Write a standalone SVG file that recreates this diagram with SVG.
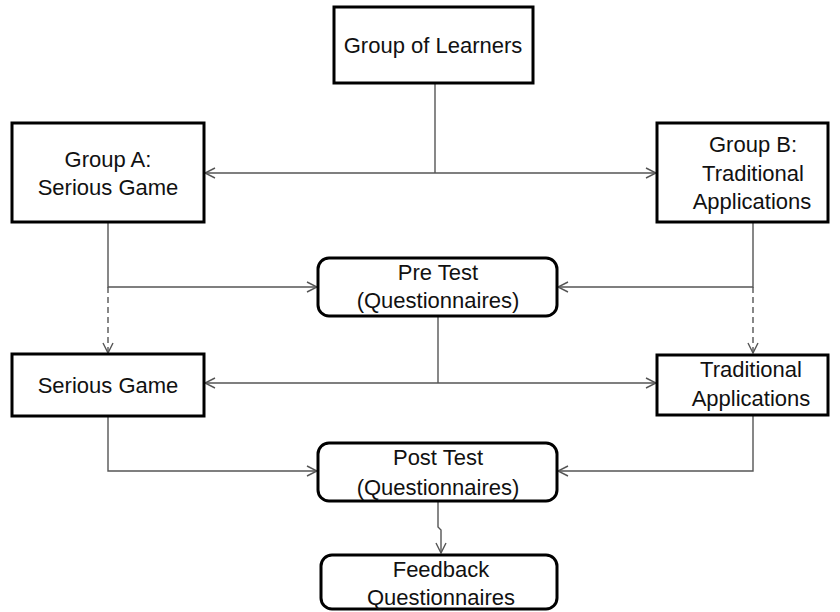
<svg xmlns="http://www.w3.org/2000/svg" width="840" height="612" viewBox="0 0 840 612">
<style>
.box{fill:#fff;stroke:#000;stroke-width:3}
.t{font-family:"Liberation Sans",Arial,sans-serif;font-size:22px;fill:#111;text-anchor:middle}
.c{fill:none;stroke:#555;stroke-width:1.4}
.d{stroke-dasharray:6,4}
</style>
<defs>
<marker id="a" viewBox="0 0 12 12" refX="11" refY="6" markerWidth="12" markerHeight="12" markerUnits="userSpaceOnUse" orient="auto">
<path d="M1,1 L11,6 L1,11" fill="none" stroke="#555" stroke-width="1.4"/>
</marker>
</defs>
<rect width="840" height="612" fill="#fff"/>
<g id="connectors">
<path class="c" d="M435,83 V173"/>
<path class="c" d="M435,173 H205" marker-end="url(#a)"/>
<path class="c" d="M435,173 H656" marker-end="url(#a)"/>
<path class="c" d="M108,222 V287 H317" marker-end="url(#a)"/>
<path class="c" d="M753,222 V287 H558" marker-end="url(#a)"/>
<path class="c d" d="M108,287 V353" marker-end="url(#a)"/>
<path class="c d" d="M753,287 V353" marker-end="url(#a)"/>
<path class="c" d="M438,316 V383"/>
<path class="c" d="M438,383 H205" marker-end="url(#a)"/>
<path class="c" d="M438,383 H656" marker-end="url(#a)"/>
<path class="c" d="M108,416 V471 H317" marker-end="url(#a)"/>
<path class="c" d="M753,416 V471 H558" marker-end="url(#a)"/>
<path class="c" d="M438,501 V527 L441,530 V553" marker-end="url(#a)"/>
</g>
<g id="learners">
<rect class="box" x="334" y="7" width="199" height="76"/>
<text class="t" x="433" y="53">Group of Learners</text>
</g>
<g id="groupA">
<rect class="box" x="12" y="123" width="192" height="99"/>
<text class="t" x="108" y="167">Group A:</text>
<text class="t" x="108" y="195">Serious Game</text>
</g>
<g id="groupB">
<rect class="box" x="657" y="123" width="171" height="99"/>
<text class="t" x="753" y="152">Group B:</text>
<text class="t" x="753" y="181">Traditional</text>
<text class="t" x="752" y="209">Applications</text>
</g>
<g id="pretest">
<rect class="box" x="318" y="258" width="239" height="58" rx="11"/>
<text class="t" x="438" y="280">Pre Test</text>
<text class="t" x="438" y="308">(Questionnaires)</text>
</g>
<g id="seriousgame">
<rect class="box" x="12" y="354" width="192" height="62"/>
<text class="t" x="108" y="393">Serious Game</text>
</g>
<g id="traditional">
<rect class="box" x="657" y="355" width="171" height="60"/>
<text class="t" x="751" y="377">Traditional</text>
<text class="t" x="751" y="406">Applications</text>
</g>
<g id="posttest">
<rect class="box" x="318" y="443" width="239" height="58" rx="11"/>
<text class="t" x="438" y="465">Post Test</text>
<text class="t" x="438" y="495">(Questionnaires)</text>
</g>
<g id="feedback">
<rect class="box" x="321" y="555" width="236" height="54" rx="11"/>
<text class="t" x="441" y="577">Feedback</text>
<text class="t" x="441" y="605">Questionnaires</text>
</g>
</svg>
